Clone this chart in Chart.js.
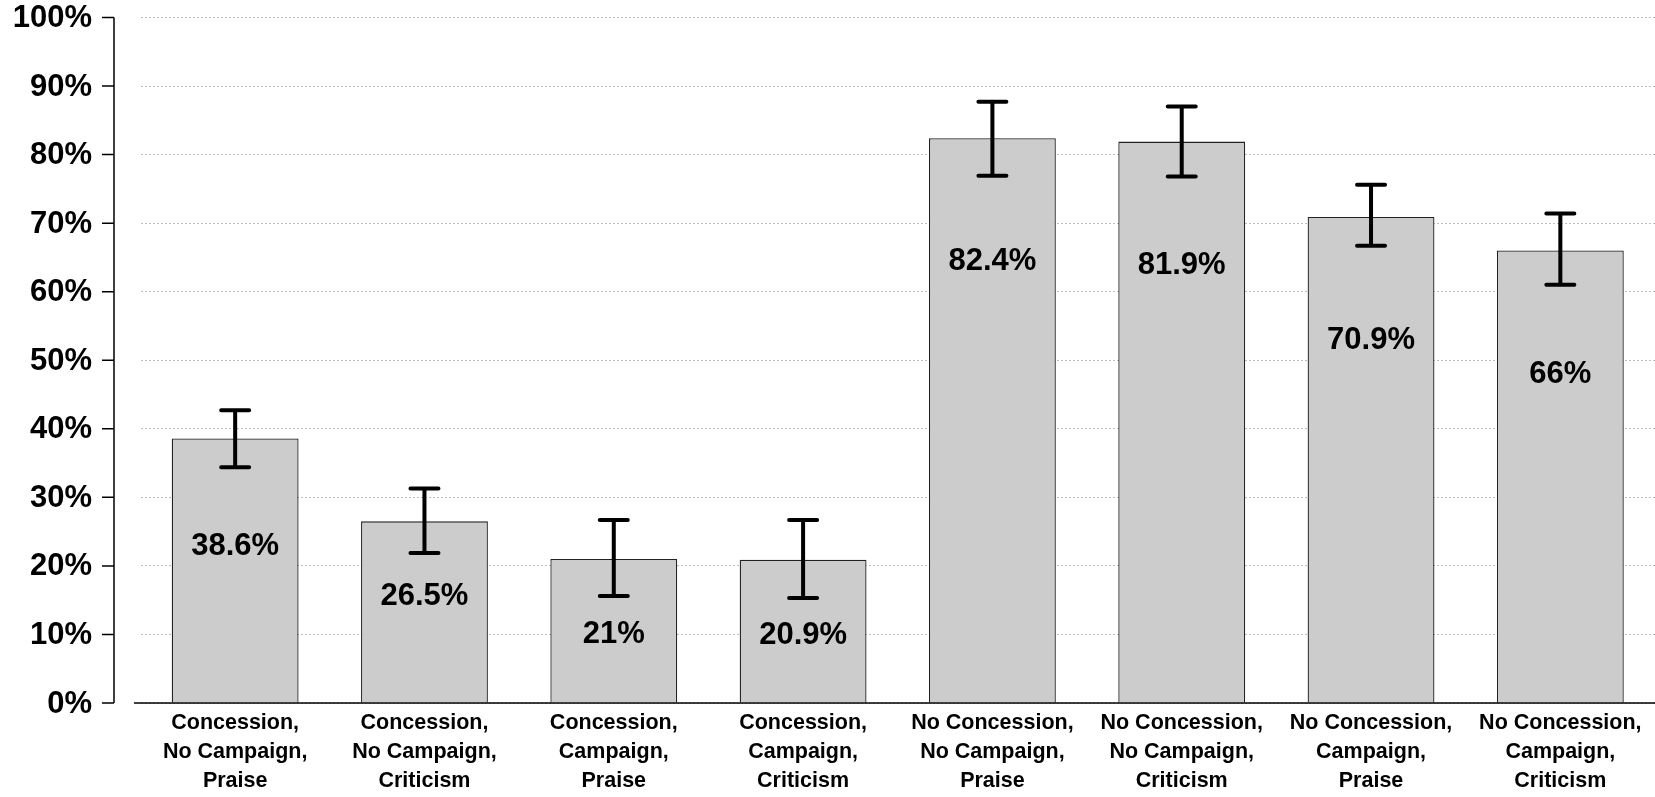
<!DOCTYPE html>
<html>
<head>
<meta charset="utf-8">
<script src="https://cdn.jsdelivr.net/npm/chart.js@4"></script>
<style>
  html, body { margin: 0; padding: 0; background: #ffffff; }
  #wrap { width: 1655px; height: 797px; position: relative; }
</style>
</head>
<body>
<div id="wrap"><canvas id="grafico"></canvas></div>
<script>
// Categorias e valores
const categorias = [
  ['Concession,', 'No Campaign,', 'Praise'],
  ['Concession,', 'No Campaign,', 'Criticism'],
  ['Concession,', 'Campaign,', 'Praise'],
  ['Concession,', 'Campaign,', 'Criticism'],
  ['No Concession,', 'No Campaign,', 'Praise'],
  ['No Concession,', 'No Campaign,', 'Criticism'],
  ['No Concession,', 'Campaign,', 'Praise'],
  ['No Concession,', 'Campaign,', 'Criticism']
];
const valores = [38.6, 26.5, 21, 20.9, 82.4, 81.9, 70.9, 66];
const erroInferior = [34.4, 21.9, 15.6, 15.3, 76.9, 76.8, 66.7, 61.0];
const erroSuperior = [42.7, 31.3, 26.7, 26.7, 87.7, 87.0, 75.6, 71.4];
const rotulosY = [0, 10, 20, 30, 40, 50, 60, 70, 80, 90, 100];

const fonte = "'Liberation Sans', Arial, sans-serif";

// Eixo Y afastado da área das barras, com rótulos, e linha de base
const eixosPlugin = {
  id: 'eixos',
  afterDraw(chart) {
    const ctx = chart.ctx;
    const y = chart.scales.y;
    const xEixo = 114;
    ctx.save();
    ctx.strokeStyle = '#000';
    ctx.lineWidth = 1.5;
    ctx.beginPath();
    ctx.moveTo(xEixo, y.getPixelForValue(0));
    ctx.lineTo(xEixo, y.getPixelForValue(100));
    rotulosY.forEach(v => {
      const py = y.getPixelForValue(v);
      ctx.moveTo(xEixo - 12, py);
      ctx.lineTo(xEixo, py);
    });
    ctx.stroke();

    ctx.fillStyle = '#000';
    ctx.font = 'bold 31px ' + fonte;
    ctx.textAlign = 'right';
    ctx.textBaseline = 'middle';
    rotulosY.forEach(v => {
      ctx.fillText(v + '%', 92, y.getPixelForValue(v) + 1);
    });

    // linha de base
    ctx.beginPath();
    ctx.moveTo(134, y.getPixelForValue(0));
    ctx.lineTo(chart.width, y.getPixelForValue(0));
    ctx.stroke();
    ctx.restore();
  }
};

// Barras de erro e rótulos de valor
const errosPlugin = {
  id: 'erros',
  afterDatasetsDraw(chart) {
    const ctx = chart.ctx;
    const y = chart.scales.y;
    const meta = chart.getDatasetMeta(0);
    ctx.save();
    meta.data.forEach((barra, i) => {
      const x = barra.x;
      // rótulo dentro da barra
      const valor = valores[i];
      const queda = Math.min(18, Math.max(11, valor * 0.41));
      ctx.fillStyle = '#000';
      ctx.font = 'bold 31px ' + fonte;
      ctx.textAlign = 'center';
      ctx.textBaseline = 'middle';
      ctx.fillText(valor + '%', x, y.getPixelForValue(valor - queda));

      const topo = y.getPixelForValue(erroSuperior[i]);
      const base = y.getPixelForValue(erroInferior[i]);
      ctx.strokeStyle = '#000';
      ctx.lineWidth = 4;
      ctx.lineCap = 'round';
      ctx.beginPath();
      ctx.moveTo(x, topo);
      ctx.lineTo(x, base);
      ctx.moveTo(x - 14, topo);
      ctx.lineTo(x + 14, topo);
      ctx.moveTo(x - 14, base);
      ctx.lineTo(x + 14, base);
      ctx.stroke();
    });
    ctx.restore();
  }
};

const ctx = document.getElementById('grafico').getContext('2d');
const chart = new Chart(ctx, {
  type: 'bar',
  data: {
    labels: categorias,
    datasets: [{
      data: valores,
      backgroundColor: '#cccccc',
      borderColor: '#222222',
      borderWidth: 1.3,
      barPercentage: 0.67,
      categoryPercentage: 1
    }]
  },
  options: {
    responsive: true,
    maintainAspectRatio: false,
    animation: false,
    layout: { padding: { top: 17.5, right: 0, left: 0, bottom: 0 } },
    plugins: {
      legend: { display: false },
      tooltip: { enabled: false }
    },
    scales: {
      x: {
        grid: { display: false, drawTicks: false },
        border: { display: false },
        ticks: {
          color: '#000',
          padding: 6,
          maxRotation: 0,
          autoSkip: false,
          font: { family: fonte, size: 21.5, weight: 'bold', lineHeight: 1.35 }
        },
        afterFit(scale) { scale.height = 94; }
      },
      y: {
        min: 0,
        max: 100,
        grid: { color: '#bdbdbd', lineWidth: 1, drawTicks: false },
        border: { display: false, dash: [2, 2] },
        ticks: { display: false, stepSize: 10 },
        afterFit(scale) { scale.width = 140.5; }
      }
    }
  },
  plugins: [eixosPlugin, errosPlugin]
});
</script>
</body>
</html>
